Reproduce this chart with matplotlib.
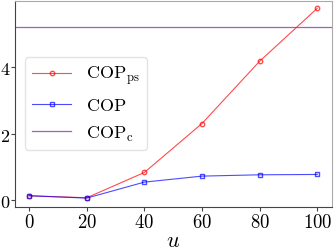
import matplotlib
matplotlib.use("Agg")
import matplotlib.pyplot as plt
from matplotlib.ticker import FuncFormatter

plt.rcParams['mathtext.fontset'] = 'cm'

# data
u = [0, 20, 40, 60, 80, 100]
cop_ps = [0.13, 0.07, 0.83, 2.30, 4.17, 5.76]
cop = [0.13, 0.06, 0.54, 0.72, 0.76, 0.77]
cop_c = 5.2

fig = plt.figure(figsize=(3.34, 2.51), dpi=100)
ax = fig.add_axes([0.044, 0.171, 0.949, 0.821])

ax.plot(u, cop_ps, color='red', marker='o', mfc='none', ms=3.2, lw=0.8, alpha=0.7,
        label=r'$\mathrm{COP_{ps}}$')
ax.plot(u, cop, color='blue', marker='s', mfc='none', ms=3.2, lw=0.8, alpha=0.7,
        label=r'$\mathrm{COP}$')
ax.axhline(cop_c, color='#a03cb4', lw=0.9, alpha=0.85, label=r'$\mathrm{COP_c}$')

ax.set_xlim(-5, 105)
ax.set_ylim(-0.21, 5.98)
ax.set_xticks(u)
ax.set_yticks([0, 2, 4])
fmt = FuncFormatter(lambda v, p: f'${v:g}$')
ax.xaxis.set_major_formatter(fmt)
ax.yaxis.set_major_formatter(fmt)
ax.tick_params(labelsize=13.5, length=3, width=0.8, color='#444444', pad=0.5)
ax.tick_params(axis='y', labelsize=13, pad=0)
ax.set_xlabel(r'$u$', fontsize=16, labelpad=-1)

for s in ['left', 'bottom']:
    ax.spines[s].set_color('#444444')
for s in ['top', 'right']:
    ax.spines[s].set_color('#aaaaaa')

ax.legend(loc='upper left', bbox_to_anchor=(0.031, 0.728), fontsize=13,
          edgecolor='#dddddd', handlelength=2.2, labelspacing=0.5,
          borderpad=0.4, handletextpad=0.8, borderaxespad=0)

fig.savefig('out.png', dpi=100)
